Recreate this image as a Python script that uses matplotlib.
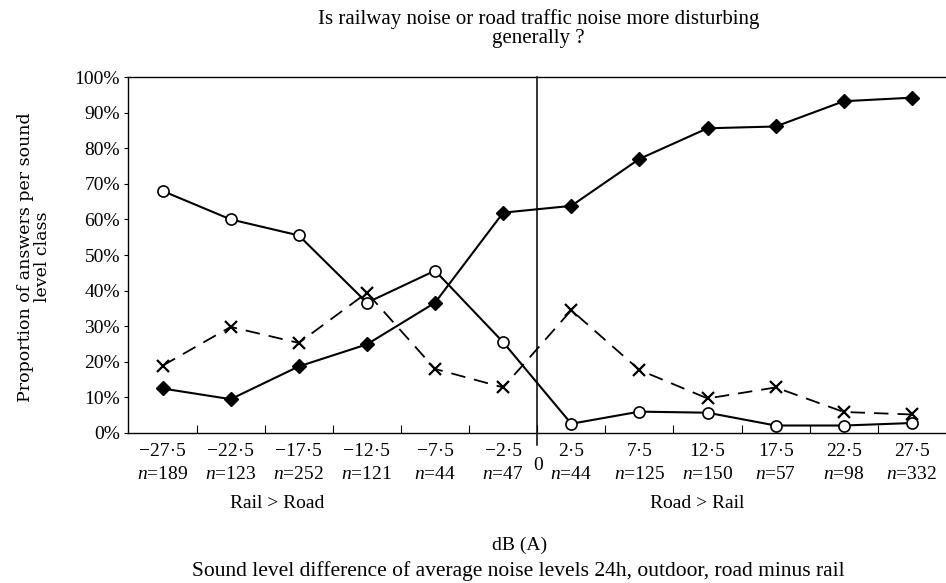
import matplotlib
matplotlib.use("Agg")
import matplotlib.pyplot as plt

plt.rcParams['font.family'] = ['Liberation Serif', 'DejaVu Serif']
plt.rcParams['mathtext.fontset'] = 'custom'
plt.rcParams['mathtext.rm'] = 'Liberation Serif'
plt.rcParams['mathtext.it'] = 'Liberation Serif:italic'

# level classes (dB(A), road minus rail) and sample sizes
level_diff = [-27.5, -22.5, -17.5, -12.5, -7.5, -2.5, 2.5, 7.5, 12.5, 17.5, 22.5, 27.5]
n_answers = [189, 123, 252, 121, 44, 47, 44, 125, 150, 57, 98, 332]

# percentages of answers per class
road_worse = [12.5, 9.5, 18.7, 24.9, 36.6, 61.9, 63.8, 77.0, 85.6, 86.1, 93.2, 94.2]
rail_worse = [68.0, 60.0, 55.5, 36.6, 45.6, 25.5, 2.6, 6.0, 5.7, 2.1, 2.1, 2.8]
equal = [18.9, 29.8, 25.3, 39.4, 18.0, 12.8, 34.5, 17.7, 9.7, 12.8, 5.9, 5.2]

tick_labels = [f"{v:.1f}".replace('.', '·').replace('-', '−') + "\n$n$=" + str(n)
               for v, n in zip(level_diff, n_answers)]

fig = plt.figure(figsize=(9.46, 5.83), dpi=100)
ax = fig.add_axes([0.1358, 0.2573, 0.8642, 0.6106])

ax.plot(level_diff, road_worse, '-', color='black', lw=1.5, marker='D',
        ms=7, mfc='black', mec='black', zorder=3)
ax.plot(level_diff, rail_worse, '-', color='black', lw=1.5, marker='o',
        ms=8, mfc='white', mec='black', mew=1.2, zorder=3)
ax.plot(level_diff, equal, color='black', lw=1.3, ls=(0, (8, 5)), marker='x',
        ms=9, mew=1.6, zorder=3)

# zero line, running a little below the axis
ax.axvline(0, color='black', lw=1.1, ymin=-0.035, ymax=1, clip_on=False)

ax.set_xlim(-30, 30)
ax.set_ylim(0, 100)
ax.set_yticks(range(0, 101, 10))
ax.set_yticklabels([f"{v}%" for v in range(0, 101, 10)], fontsize=14)
ax.tick_params(axis='y', direction='out', length=3, width=0.8, pad=3)

ax.set_xticks(level_diff)
ax.set_xticklabels(tick_labels, fontsize=14, linespacing=1.5)
ax.set_xticks([-25, -20, -15, -10, -5, 0, 5, 10, 15, 20, 25], minor=True)
ax.tick_params(axis='x', which='major', length=0, pad=7)
ax.tick_params(axis='x', which='minor', direction='in', length=6, width=0.8)

ax.spines['right'].set_visible(False)
for side in ['left', 'bottom', 'top']:
    ax.spines[side].set_linewidth(1.0)

fig.text(538 / 946, 1 - 466 / 583, '0', ha='center', va='center', fontsize=14)

fig.text(0.569, 0.985, 'Is railway noise or road traffic noise more disturbing\ngenerally ?',
         ha='center', va='top', fontsize=15, linespacing=1.0)
fig.text(0.036, 1 - 257 / 583, 'Proportion of answers per sound\nlevel class', rotation=90,
         ha='center', va='center', fontsize=12.5, linespacing=1.05,
         family=['DejaVu Serif'])
fig.text(277 / 946, 1 - 504 / 583, 'Rail > Road', ha='center', va='center', fontsize=14)
fig.text(697 / 946, 1 - 504 / 583, 'Road > Rail', ha='center', va='center', fontsize=14)
fig.text(520 / 946, 1 - 545 / 583, 'dB (A)', ha='center', va='center', fontsize=14)
fig.text(518 / 946, 1 - 571 / 583,
         'Sound level difference of average noise levels 24h, outdoor, road minus rail',
         ha='center', va='center', fontsize=15.5)

fig.savefig('out.png', dpi=100)
